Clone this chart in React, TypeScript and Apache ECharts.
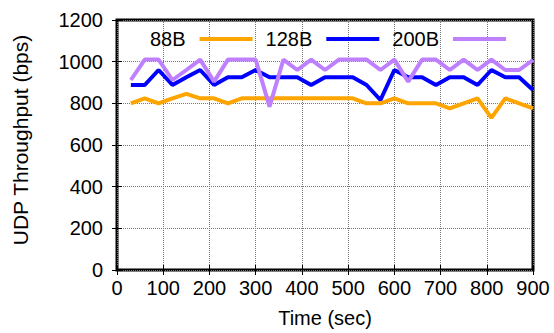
import React, { useEffect, useRef } from "react";
import * as echarts from "echarts";

const times = [30, 60, 90, 120, 150, 180, 210, 240, 270, 300, 330, 360, 390, 420, 450, 480, 510, 540, 570, 600, 630, 660, 690, 720, 750, 780, 810, 840, 870, 900];
const s88 = [800, 824, 800, 824, 845, 824, 824, 800, 824, 824, 824, 824, 824, 824, 824, 824, 824, 800, 800, 824, 800, 800, 800, 776, 800, 824, 730, 824, 800, 776];
const s128 = [888, 888, 960, 888, 925, 960, 888, 925, 925, 960, 925, 925, 925, 888, 925, 925, 925, 888, 816, 960, 925, 925, 888, 925, 925, 888, 960, 925, 925, 864];
const s200 = [912, 1010, 1010, 912, 960, 1010, 904, 1010, 1010, 1010, 784, 1010, 960, 1010, 960, 1010, 1010, 1010, 960, 1010, 904, 1010, 1010, 960, 1010, 960, 1010, 960, 960, 1008];
const names = ["88B", "128B", "200B"];
const colors = ["#ffa500", "#0000ff", "#bf80ff"];

const FONT = "Liberation Sans";

export default function App() {
  const ref = useRef<HTMLDivElement>(null);
  useEffect(() => {
    const chart = echarts.init(ref.current!, undefined, { renderer: "svg" });
    const data = [s88, s128, s200];
    const tickStyle = { show: true, inside: true, length: 5, lineStyle: { color: "#000", width: 1 } };
    const split = { show: true, lineStyle: { type: "dotted", color: "#777", width: 1 } };
    const fmt = (v: number) => String(v);
    chart.setOption({
      animation: false,
      textStyle: { fontFamily: FONT },
      grid: { left: 117, right: 21, top: 20, bottom: 63, show: true, borderColor: "#000", borderWidth: 3, backgroundColor: "transparent" },
      legend: {
        data: names,
        left: 145,
        top: 24,
        align: "right",
        icon: "rect",
        itemWidth: 53,
        itemHeight: 4,
        itemGap: 13,
        textStyle: { fontFamily: FONT, fontSize: 20, color: "#000", padding: [0, 9, 0, 0] },
      },
      xAxis: [
        {
          type: "value", min: 0, max: 900, interval: 100,
          axisLine: { show: false }, axisTick: tickStyle, splitLine: split,
          axisLabel: { color: "#000", fontSize: 20, fontFamily: FONT, margin: 8, formatter: fmt },
          name: "Time (sec)", nameLocation: "middle", nameGap: 38,
          nameTextStyle: { color: "#000", fontSize: 20, fontFamily: FONT },
        },
        {
          type: "value", min: 0, max: 900, interval: 100, position: "top",
          axisLine: { show: false }, axisTick: tickStyle, splitLine: { show: false }, axisLabel: { show: false },
        },
      ],
      yAxis: [
        {
          type: "value", min: 0, max: 1200, interval: 200,
          axisLine: { show: false }, axisTick: tickStyle, splitLine: split,
          axisLabel: { color: "#000", fontSize: 20, fontFamily: FONT, margin: 14, formatter: fmt },
          name: "UDP Throughput (bps)", nameLocation: "middle", nameGap: 86,
          nameTextStyle: { color: "#000", fontSize: 21, fontFamily: FONT, padding: [0, 0, 0, 10] },
        },
        {
          type: "value", min: 0, max: 1200, interval: 200, position: "right",
          axisLine: { show: false }, axisTick: tickStyle, splitLine: { show: false }, axisLabel: { show: false },
        },
      ],
      series: names.map((n, i) => ({
        name: n,
        type: "line",
        data: times.map((t, j) => [t, data[i][j]]),
        showSymbol: false,
        symbol: "none",
        color: colors[i],
        lineStyle: { color: colors[i], width: 4 },
        itemStyle: { color: colors[i] },
      })),
    });
    return () => chart.dispose();
  }, []);
  return <div ref={ref} style={{ width: 554, height: 333, position: "absolute", left: 0, top: 0 }} />;
}
